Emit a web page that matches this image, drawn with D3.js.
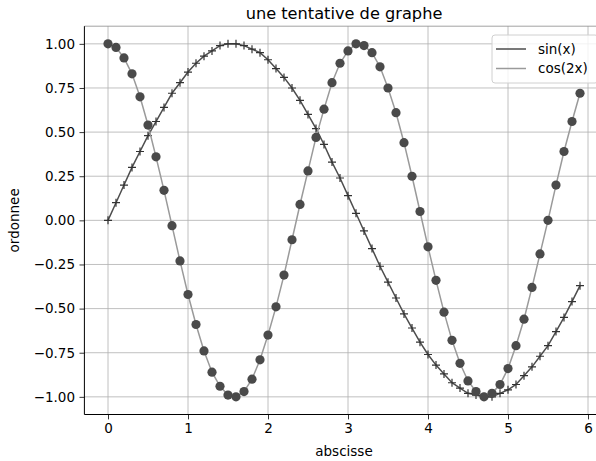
<!DOCTYPE html>
<html>
<head>
<meta charset="utf-8">
<script src="https://cdn.jsdelivr.net/npm/d3@7"></script>
<style>
	body { margin:0; background:#fff; }
	svg text { font-family: "DejaVu Sans", sans-serif; fill:#000; }
	.grid line { stroke:#b0b0b0; stroke-width:0.8; }
</style>
</head>
<body>
<div id="player"></div>
<script>

// data
var xs = [0.0,0.1,0.2,0.3,0.4,0.5,0.6,0.7,0.8,0.9,
	1.0,1.1,1.2,1.3,1.4,1.5,1.6,1.7,1.8,1.9,
	2.0,2.1,2.2,2.3,2.4,2.5,2.6,2.7,2.8,2.9,
	3.0,3.1,3.2,3.3,3.4,3.5,3.6,3.7,3.8,3.9,
	4.0,4.1,4.2,4.3,4.4,4.5,4.6,4.7,4.8,4.9,
	5.0,5.1,5.2,5.3,5.4,5.5,5.6,5.7,5.8,5.9];
var sinValues = [0.00,0.10,0.20,0.30,0.39,0.48,0.56,0.64,0.72,0.78,
	0.84,0.89,0.93,0.96,0.99,1.00,1.00,0.99,0.97,0.95,
	0.91,0.86,0.81,0.75,0.68,0.60,0.52,0.43,0.33,0.24,
	0.14,0.04,-0.06,-0.16,-0.26,-0.35,-0.44,-0.53,-0.61,-0.69,
	-0.76,-0.82,-0.87,-0.92,-0.95,-0.98,-0.99,-1.00,-1.00,-0.98,
	-0.96,-0.93,-0.88,-0.83,-0.77,-0.71,-0.63,-0.55,-0.46,-0.37];
var cosValues = [1.00,0.98,0.92,0.83,0.70,0.54,0.36,0.17,-0.03,-0.23,
	-0.42,-0.59,-0.74,-0.86,-0.94,-0.99,-1.00,-0.97,-0.90,-0.79,
	-0.65,-0.49,-0.31,-0.11,0.09,0.28,0.47,0.63,0.78,0.89,
	0.96,1.00,0.99,0.95,0.87,0.75,0.61,0.44,0.25,0.05,
	-0.15,-0.34,-0.52,-0.68,-0.81,-0.91,-0.97,-1.00,-0.98,-0.93,
	-0.84,-0.71,-0.56,-0.38,-0.19,0.00,0.20,0.39,0.56,0.72];
var xTicks = [0,1,2,3,4,5,6];
var yTicks = [-1.00,-0.75,-0.50,-0.25,0.00,0.25,0.50,0.75,1.00];
var seriesNames = ["sin(x)", "cos(2x)"];

// size and axes box (right edge runs past the window, like the original)
var W = 596, H = 461;
var box = {left:84.4, right:603.6, top:26.2, bottom:414.5};

var x = d3.scaleLinear().domain([-0.295, 6.195]).range([box.left, box.right]);
var y = d3.scaleLinear().domain([-1.1, 1.1]).range([box.bottom, box.top]);

var svg = d3.select("#player").append("svg")
	.attr("width", W)
	.attr("height", H);

// Grid
var grid = svg.append("g").attr("class", "grid");
grid.selectAll("line.gx").data(xTicks).enter().append("line")
	.attr("x1", function(d){ return x(d); })
	.attr("x2", function(d){ return x(d); })
	.attr("y1", box.top).attr("y2", box.bottom);
grid.selectAll("line.gy").data(yTicks).enter().append("line")
	.attr("y1", function(d){ return y(d); })
	.attr("y2", function(d){ return y(d); })
	.attr("x1", box.left).attr("x2", box.right);

// Lines
var pathline = d3.line()
	.x(function(d){ return x(d[0]); })
	.y(function(d){ return y(d[1]); });
var sinPts = xs.map(function(v,i){ return [v, sinValues[i]]; });
var cosPts = xs.map(function(v,i){ return [v, cosValues[i]]; });

svg.append("path")
	.attr("d", pathline(sinPts))
	.attr("fill", "none")
	.attr("stroke", "#4d4d4d")
	.attr("stroke-width", 1.5);

// '+' markers for sin
svg.append("g").selectAll("path").data(sinPts).enter().append("path")
	.attr("transform", function(d){ return "translate("+x(d[0])+","+y(d[1])+")"; })
	.attr("d", "M-4,0H4M0,-4V4")
	.attr("stroke", "#333")
	.attr("stroke-width", 1.2);

svg.append("path")
	.attr("d", pathline(cosPts))
	.attr("fill", "none")
	.attr("stroke", "#9a9a9a")
	.attr("stroke-width", 1.5);

// circle markers for cos
svg.append("g").selectAll("circle").data(cosPts).enter().append("circle")
	.attr("cx", function(d){ return x(d[0]); })
	.attr("cy", function(d){ return y(d[1]); })
	.attr("r", 4.6)
	.attr("fill", "#4a4a4a");

// Spines
svg.append("line")
	.attr("x1", box.left).attr("x2", box.right)
	.attr("y1", box.top).attr("y2", box.top)
	.attr("stroke", "#8a8a8a").attr("stroke-width", 0.8);
var xAxis = svg.append("g")
	.attr("transform", "translate(0,"+box.bottom+")")
	.call(d3.axisBottom(x).tickValues(xTicks).tickSize(4.9).tickPadding(4.5)
		.tickFormat(d3.format("d")));
var yAxis = svg.append("g")
	.attr("transform", "translate("+box.left+",0)")
	.call(d3.axisLeft(y).tickValues(yTicks).tickSize(4.9).tickPadding(4.5)
		.tickFormat(function(d){ return d3.format(".2f")(d).replace("-", "\u2212"); }));
xAxis.select(".domain").attr("d", "M"+box.left+",0H"+box.right).attr("stroke-width", 1);
yAxis.select(".domain").attr("d", "M0,"+box.top+"V"+box.bottom).attr("stroke-width", 1);
svg.selectAll(".tick text").attr("font-size", 13.5).attr("font-family", "DejaVu Sans");
svg.selectAll(".tick line").attr("stroke-width", 0.8);

// Axis Labels
svg.append("text")
	.attr("x", (box.left+box.right)/2)
	.attr("y", 456)
	.attr("text-anchor", "middle")
	.attr("font-size", 13.5)
	.text("abscisse");
svg.append("text")
	.attr("transform", "translate(19,"+((box.top+box.bottom)/2)+") rotate(-90)")
	.attr("text-anchor", "middle")
	.attr("font-size", 13.5)
	.text("ordonnee");

// Title
svg.append("text")
	.attr("x", (box.left+box.right)/2)
	.attr("y", 19)
	.attr("text-anchor", "middle")
	.attr("font-size", 16.2)
	.text("une tentative de graphe");

// Legend
var legend = svg.append("g");
legend.append("rect")
	.attr("x", 492).attr("y", 35)
	.attr("width", 106).attr("height", 48)
	.attr("rx", 3)
	.attr("fill", "#fff").attr("fill-opacity", 0.8)
	.attr("stroke", "#d0d0d0").attr("stroke-width", 1);
var legendColors = ["#4d4d4d", "#9a9a9a"];
var row = legend.selectAll("g.row").data(seriesNames).enter().append("g")
	.attr("transform", function(d,i){ return "translate(0,"+(49+i*19.5)+")"; });
row.append("line")
	.attr("x1", 496).attr("x2", 526)
	.attr("stroke", function(d,i){ return legendColors[i]; })
	.attr("stroke-width", 1.5);
row.append("text")
	.attr("x", 538)
	.attr("dy", "0.35em")
	.attr("font-size", 13.5)
	.text(function(d){ return d; });

</script>
</body>
</html>
